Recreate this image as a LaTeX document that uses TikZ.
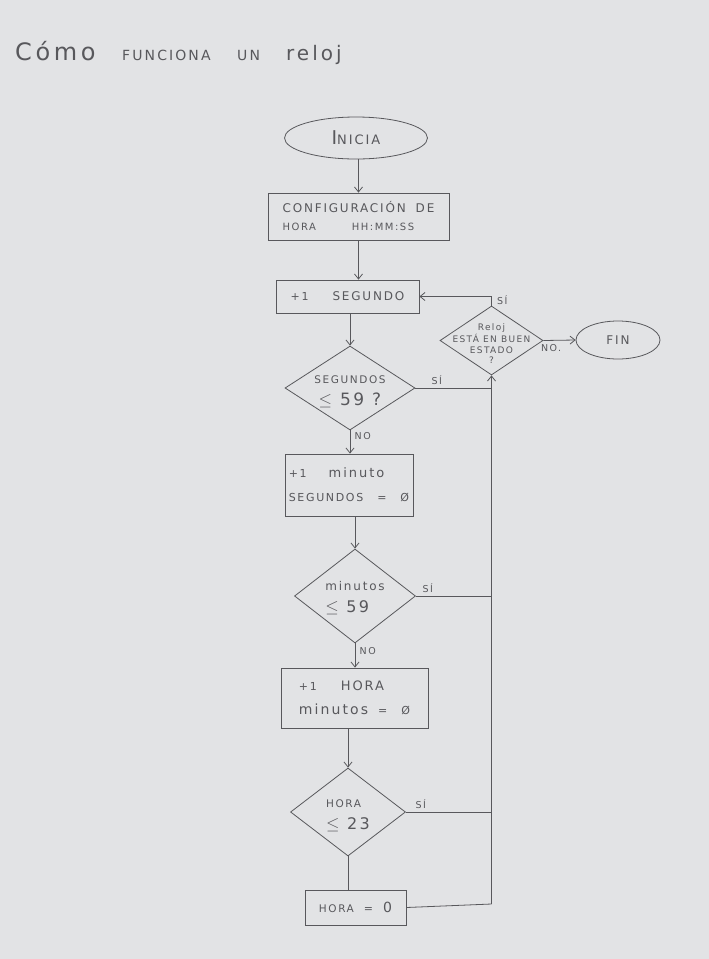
\documentclass[tikz,border=0pt]{standalone}
\usepackage{fontspec}
\setmainfont{DejaVu Sans}[LetterSpace=15]
\usetikzlibrary{shapes.geometric,arrows.meta}
\definecolor{paper}{RGB}{226,227,229}
\definecolor{pencil}{RGB}{88,88,92}
\newcommand{\fs}[1]{\fontsize{#1}{#1}\selectfont}
\begin{document}
\begin{tikzpicture}[x=1pt,y=-1pt,
  every node/.style={text=pencil, font=\fontsize{11}{16}\selectfont},
  line/.style={draw=pencil, line width=0.8pt},
  arrow/.style={line, -{Straight Barb[length=5pt,width=8pt]}},
  box/.style={line, rectangle, inner sep=2pt},
  decision/.style={line, diamond, inner sep=0pt, align=center},
  terminal/.style={line, ellipse, inner sep=0pt},
  lbl/.style={font=\fontsize{9.5}{10}\selectfont}]
% sheet of paper
\fill[paper] (0,0) rectangle (709,959);
\useasboundingbox (0,0) rectangle (709,959);

% heading
\node[anchor=base west, inner sep=0pt] (title) at (15,60)
  {\rlap{\fs{24}Cómo}\hspace{107pt}\rlap{\fs{14}FUNCIONA}\hspace{115pt}\rlap{\fs{14}UN}\hspace{49pt}{\fs{20}reloj}};

% flowchart nodes
\node[terminal, minimum width=143pt, minimum height=42pt] (start) at (356,138)
  {{\fs{19}I}{\fs{13}NICIA}};
\node[box, minimum width=181pt, minimum height=47pt, align=left] (config) at (358.5,216.5)
  {{\fs{12}CONFIGURACIÓN\hspace{10pt}DE}\\[2pt]{\fs{10}HORA\hspace{36pt}HH:MM:SS}};
\node[box, minimum width=143pt, minimum height=33pt] (sec) at (347.5,296.5)
  {{\fs{11}+1}\hspace{24pt}{\fs{12}SEGUNDO}};
\node[decision, minimum width=130pt, minimum height=84pt] (dsec) at (350,388)
  {\smash{\makebox[0pt]{\raisebox{-6pt}{\begin{tabular}{@{}c@{}}{\fs{10.5}SEGUNDOS}\\[5pt]{\fs{17}$\le$ 59 ?}\end{tabular}}}}};
\node[decision, minimum width=103pt, minimum height=69pt] (dok) at (491.5,340.5)
  {\smash{\makebox[0pt]{\raisebox{-7pt}{\fs{9}\begin{tabular}{@{}c@{}}Reloj\\[1pt]ESTÁ EN BUEN\\[1pt]ESTADO\\[1pt]?\end{tabular}}}}};
\node[terminal, minimum width=84pt, minimum height=38pt] (fin) at (618,340) {\fs{12}FIN};
\node[box, minimum width=128pt, minimum height=62pt, align=left] (min) at (349,485)
  {{\fs{11}+1}\hspace{22pt}{\fs{13}minuto}\\[8pt]{\fs{11}SEGUNDOS}\hspace{14pt}=\hspace{14pt}Ø};
\node[decision, minimum width=121pt, minimum height=94pt] (dmin) at (355,596)
  {\smash{\makebox[0pt]{\raisebox{-5pt}{\begin{tabular}{@{}l@{}}{\fs{12}minutos}\\[6pt]{\fs{16}$\le$ 59}\end{tabular}}}}};
\node[box, minimum width=147pt, minimum height=60pt, align=left] (hr) at (354.5,698)
  {{\fs{11}+1}\hspace{24pt}{\fs{13}HORA}\\[8pt]{\fs{14}minutos}\hspace{10pt}=\hspace{14pt}Ø};
\node[decision, minimum width=115pt, minimum height=88pt] (dhr) at (348,812)
  {\smash{\makebox[0pt]{\raisebox{-6pt}{\begin{tabular}{@{}l@{}}{\fs{10.5}HORA}\\[6pt]{\fs{16}$\le$ 23}\end{tabular}}}}};
\node[box, minimum width=101pt, minimum height=35pt] (zero) at (355.5,907.5)
  {{\fs{10.5}HORA}\hspace{10pt}=\hspace{10pt}{\fs{14}0}};

% return line on the right
\coordinate (bus) at (491.5,904);

% connectors
\draw[arrow] (start.south -| config.north) -- (config.north);
\draw[arrow] (config.south) -- (config.south |- sec.north);
\draw[arrow] (dsec.north |- sec.south) -- (dsec.north);
\draw[arrow] (dsec.south) -- (dsec.south |- min.north)
  node[lbl, pos=0.25, anchor=west, xshift=1pt] {NO};
\draw[arrow] (dmin.north |- min.south) -- (dmin.north);
\draw[arrow] (dmin.south) -- (dmin.south |- hr.north)
  node[lbl, pos=0.3, anchor=west, xshift=1pt] {NO};
\draw[arrow] (dhr.north |- hr.south) -- (dhr.north);
\draw[line] (dhr.south) -- (dhr.south |- zero.north);

\draw[line] (zero.east) -- (bus);
\draw[arrow] (bus) -- (dok.south);
\draw[line] (dsec.east) -- (dsec.east -| bus)
  node[lbl, pos=0.28, anchor=south] {SÍ};
\draw[line] (dmin.east) -- (dmin.east -| bus)
  node[lbl, pos=0, anchor=south west, xshift=3pt] {SÍ};
\draw[line] (dhr.east) -- (dhr.east -| bus)
  node[lbl, pos=0, anchor=south west, xshift=6pt] {SÍ};
\draw[arrow] (dok.north) |- node[lbl, pos=0.3, anchor=west, xshift=2pt] {SÍ} (sec.east);
\draw[arrow] (dok.east) -- (fin.west)
  node[lbl, pos=0, anchor=north west, xshift=-6pt] {NO.};
\end{tikzpicture}
\end{document}
